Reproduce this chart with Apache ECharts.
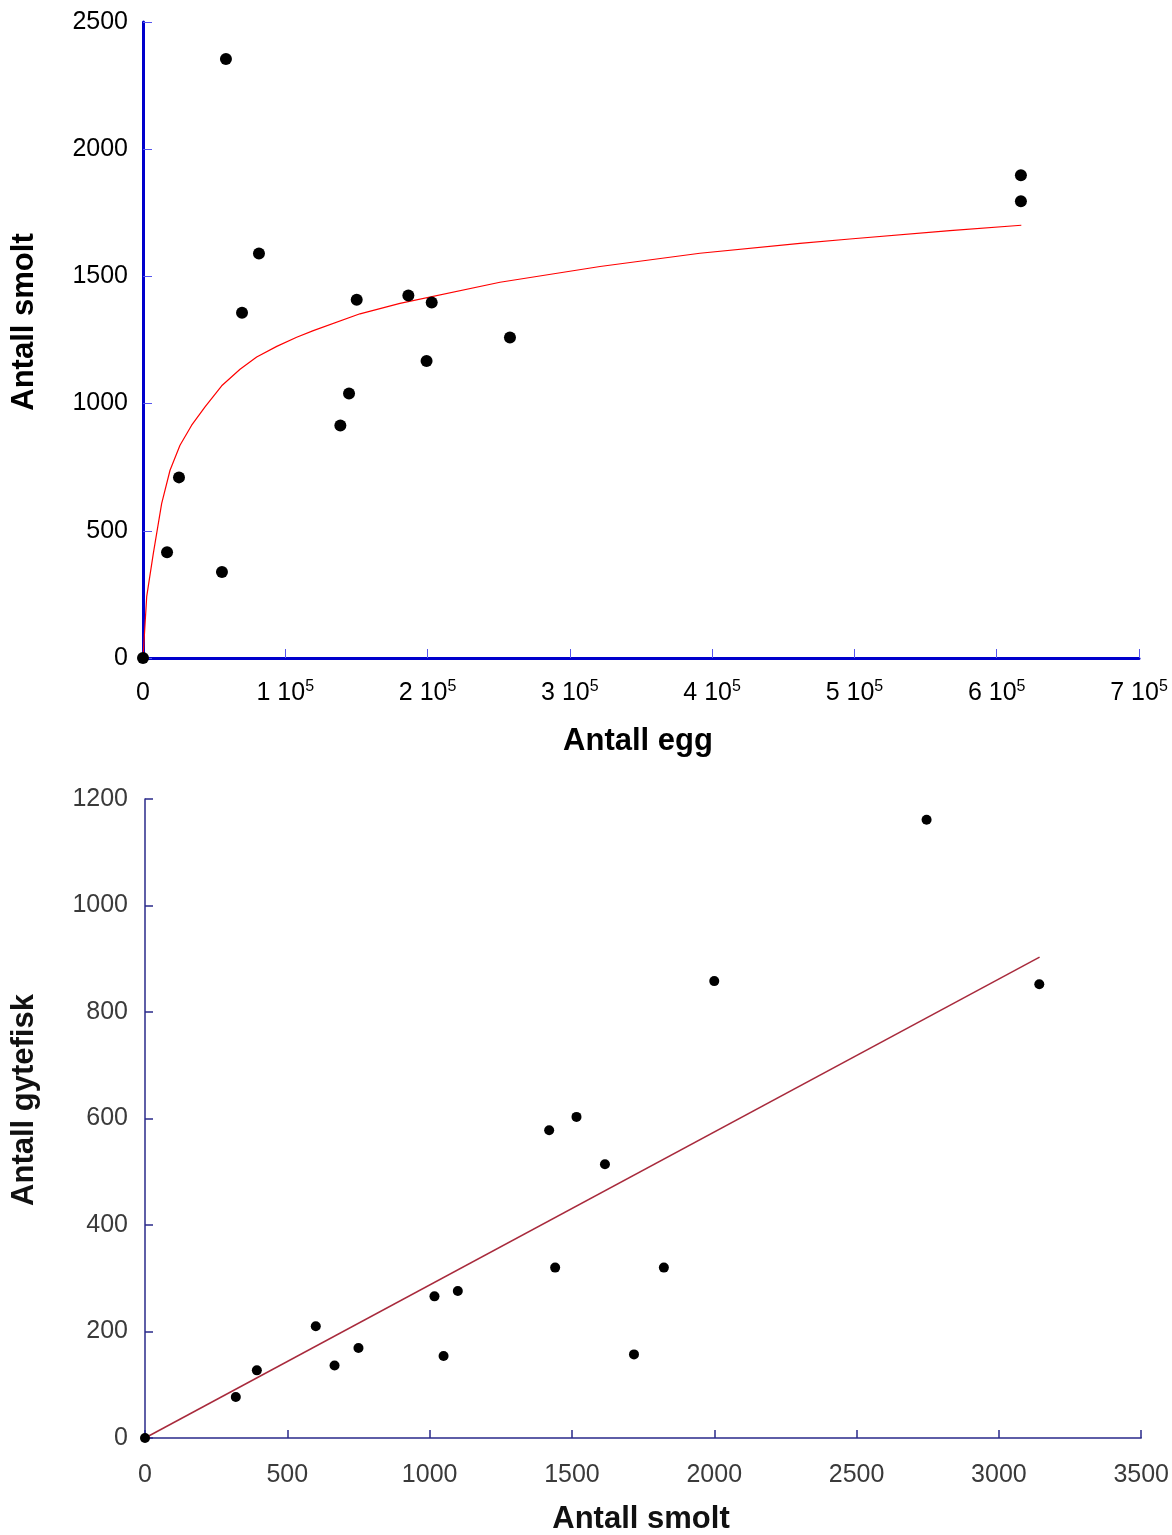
<!DOCTYPE html>
<html>
<head>
<meta charset="utf-8">
<script src="https://cdn.jsdelivr.net/npm/echarts@6/dist/echarts.min.js"></script>
<style>
html,body{margin:0;padding:0;background:#fff;}
#c{width:1172px;height:1535px;}
</style>
</head>
<body>
<div id="c"></div>
<script>
// ---- Top chart: Antall egg vs Antall smolt ----
const eggPoints = [
  [0, 0], [16900, 416], [25300, 710], [55500, 338], [58300, 2355],
  [69600, 1357], [81500, 1590], [138700, 914], [144800, 1040],
  [150200, 1408], [186500, 1425], [199300, 1167], [202900, 1397],
  [257900, 1260], [617000, 1898], [617000, 1795]
];
const eggCurve = [
  [0, 0], [2600, 241], [7260, 411], [13100, 607], [19000, 738], [26000, 836],
  [34200, 915], [43600, 987], [55300, 1070], [68200, 1135], [79900, 1183],
  [94000, 1225], [108000, 1261], [119700, 1287], [152500, 1353], [180600, 1394],
  [250900, 1477], [321200, 1539], [391400, 1591], [461700, 1630], [496800, 1647],
  [567100, 1680], [617300, 1701]
];
const topXTicks = ['0', '1 10|5', '2 10|5', '3 10|5', '4 10|5', '5 10|5', '6 10|5', '7 10|5'];
const topYTicks = ['0', '500', '1000', '1500', '2000', '2500'];

// ---- Bottom chart: Antall smolt vs Antall gytefisk ----
const smoltPoints = [
  [0, 0], [319, 77], [393, 127], [600, 210], [666, 136], [750, 169],
  [1017, 266], [1049, 154], [1099, 276], [1420, 578], [1441, 320],
  [1516, 603], [1616, 514], [1718, 157], [1823, 320], [2000, 858],
  [2746, 1161], [3142, 852]
];
const smoltLine = [[0, 0], [3143, 903]];
const botXTicks = ['0', '500', '1000', '1500', '2000', '2500', '3000', '3500'];
const botYTicks = ['0', '200', '400', '600', '800', '1000', '1200'];

const FONT = '"Liberation Sans", Arial, sans-serif';
const chart = echarts.init(document.getElementById('c'), null, {renderer: 'canvas'});

function supFmt(list) {
  return function (v, i) {
    const s = list[i];
    if (s.indexOf('|') < 0) return '{a|' + s + '}';
    const p = s.split('|');
    return '{a|' + p[0] + '}{b|' + p[1] + '}';
  };
}

const option = {
  animation: false,
  backgroundColor: '#fff',
  grid: [
    {left: 143, right: 33, top: 22, bottom: 877},
    {left: 145, right: 28, top: 799, bottom: 97}
  ],
  xAxis: [
    {
      gridIndex: 0, type: 'value', min: 0, max: 700000, interval: 100000,
      splitLine: {show: false},
      axisLine: {lineStyle: {color: '#0000cc', width: 3}},
      axisTick: {inside: true, length: 9, lineStyle: {color: '#5555ee', width: 1}},
      axisLabel: {
        margin: 21, formatter: supFmt(topXTicks),
        rich: {
          a: {fontFamily: FONT, fontSize: 25, color: '#000', lineHeight: 28},
          b: {fontFamily: FONT, fontSize: 16, color: '#000', verticalAlign: 'top', padding: [0, 0, 15, 0], lineHeight: 28}
        }
      }
    },
    {
      gridIndex: 1, type: 'value', min: 0, max: 3500, interval: 500,
      splitLine: {show: false},
      axisLine: {lineStyle: {color: '#2a2a8a', width: 1.5}},
      axisTick: {inside: true, length: 8, lineStyle: {color: '#2a2a8a', width: 1.5}},
      axisLabel: {
        margin: 25, fontFamily: FONT, fontSize: 25, color: '#3a3a3a',
        formatter: function (v, i) { return botXTicks[i]; }
      }
    }
  ],
  yAxis: [
    {
      gridIndex: 0, type: 'value', min: 0, max: 2500, interval: 500,
      splitLine: {show: false},
      axisLine: {show: true, lineStyle: {color: '#0000cc', width: 3}},
      axisTick: {show: true, inside: true, length: 9, lineStyle: {color: '#5555ee', width: 1}},
      axisLabel: {
        margin: 15, fontFamily: FONT, fontSize: 25, color: '#000',
        formatter: function (v, i) { return topYTicks[i]; }
      }
    },
    {
      gridIndex: 1, type: 'value', min: 0, max: 1200, interval: 200,
      splitLine: {show: false},
      axisLine: {show: true, lineStyle: {color: '#2a2a8a', width: 1.5}},
      axisTick: {show: true, inside: true, length: 8, lineStyle: {color: '#2a2a8a', width: 1.5}},
      axisLabel: {
        margin: 17, fontFamily: FONT, fontSize: 25, color: '#3a3a3a',
        formatter: function (v, i) { return botYTicks[i]; }
      }
    }
  ],
  series: [
    {
      type: 'line', xAxisIndex: 0, yAxisIndex: 0, data: eggCurve,
      showSymbol: false, smooth: false,
      lineStyle: {color: '#ff0000', width: 1.2}, z: 2
    },
    {
      type: 'scatter', xAxisIndex: 0, yAxisIndex: 0, data: eggPoints,
      symbol: 'circle', symbolSize: 12,
      itemStyle: {color: '#000', opacity: 1}, z: 3
    },
    {
      type: 'line', xAxisIndex: 1, yAxisIndex: 1, data: smoltLine,
      showSymbol: false,
      lineStyle: {color: '#a82a3c', width: 1.5}, z: 2
    },
    {
      type: 'scatter', xAxisIndex: 1, yAxisIndex: 1, data: smoltPoints,
      symbol: 'circle', symbolSize: 10,
      itemStyle: {color: '#000', opacity: 1}, z: 3
    }
  ],
  graphic: [
    {type: 'text', x: 24, y: 322, rotation: Math.PI / 2,
     style: {text: 'Antall smolt', font: 'bold 31px ' + FONT, fill: '#000', align: 'center', verticalAlign: 'middle'}},
    {type: 'text', x: 638, y: 741,
     style: {text: 'Antall egg', font: 'bold 31px ' + FONT, fill: '#000', align: 'center', verticalAlign: 'middle'}},
    {type: 'text', x: 24, y: 1100, rotation: Math.PI / 2,
     style: {text: 'Antall gytefisk', font: 'bold 31px ' + FONT, fill: '#111', align: 'center', verticalAlign: 'middle'}},
    {type: 'text', x: 641, y: 1519,
     style: {text: 'Antall smolt', font: 'bold 31px ' + FONT, fill: '#111', align: 'center', verticalAlign: 'middle'}}
  ]
};
chart.setOption(option);
</script>
</body>
</html>
